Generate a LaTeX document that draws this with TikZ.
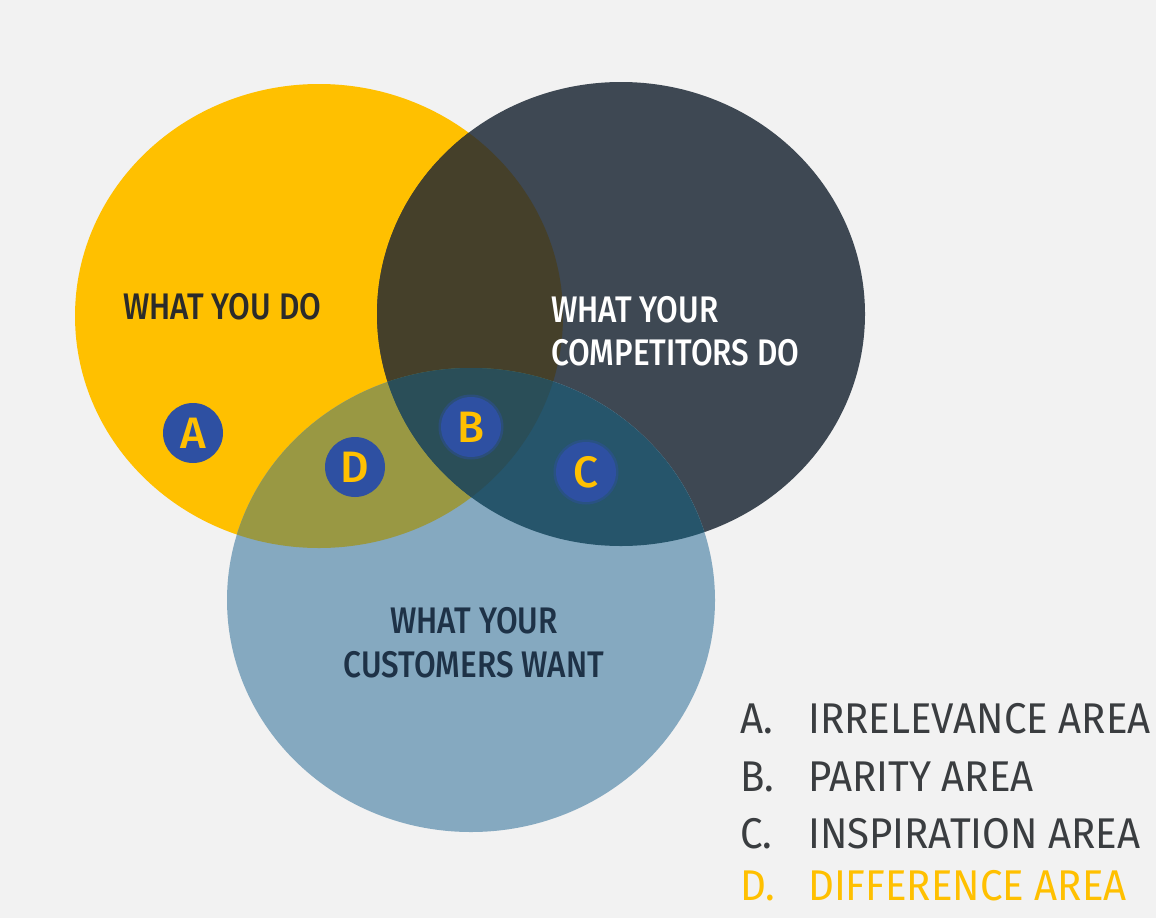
\documentclass[tikz,border=0pt]{standalone}
\usepackage{fontspec}
\setmainfont{Fira Sans}
\newfontfamily\medfont{Fira Sans Medium}

\definecolor{fondo}{HTML}{F2F2F2}
\definecolor{youcol}{HTML}{FFC000}
\definecolor{compcol}{HTML}{3E4853}
\definecolor{custcol}{HTML}{85A9C0}
\definecolor{youcomp}{HTML}{45402A}
\definecolor{youcust}{HTML}{999843}
\definecolor{compcust}{HTML}{26556B}
\definecolor{tutti}{HTML}{2A4E58}
\definecolor{badgecol}{HTML}{2E50A2}
\definecolor{scuro}{HTML}{2B2B2B}
\definecolor{navy}{HTML}{1E3247}
\definecolor{grigio}{HTML}{3A3D40}

\begin{document}
\begin{tikzpicture}[x=1pt,y=-1pt,
  titolo/.style={font={\medfont\fontsize{37}{44}\selectfont},xscale=0.85,inner sep=0},
  badge/.style={circle,fill=badgecol,text=youcol,minimum size=60pt,inner sep=0,
    font={\medfont\fontsize{44}{44}\selectfont}},
  alone/.style={draw=badgecol,draw opacity=0.45,line width=5pt},
  voce/.style={font={\fontsize{43}{50}\selectfont},xscale=0.935,inner sep=0,
    anchor=base west,text=grigio}]

  % sfondo
  \useasboundingbox (0,0) rectangle (1156,918);
  \fill[fondo] (0,0) rectangle (1156,918);

  % cerchi
  \fill[youcol] (319,316) ellipse [x radius=244pt, y radius=232pt];
  \fill[compcol] (621,314) ellipse [x radius=244pt, y radius=232pt];
  \fill[custcol] (471,600) ellipse [x radius=244pt, y radius=232pt];

  % intersezioni
  \begin{scope}
    \clip (319,316) ellipse [x radius=244pt, y radius=232pt];
    \fill[youcomp] (621,314) ellipse [x radius=244pt, y radius=232pt];
    \fill[youcust] (471,600) ellipse [x radius=244pt, y radius=232pt];
  \end{scope}
  \begin{scope}
    \clip (621,314) ellipse [x radius=244pt, y radius=232pt];
    \fill[compcust] (471,600) ellipse [x radius=244pt, y radius=232pt];
    \clip (319,316) ellipse [x radius=244pt, y radius=232pt];
    \fill[tutti] (471,600) ellipse [x radius=244pt, y radius=232pt];
  \end{scope}

  % titoli
  \node[titolo,anchor=base west,text=scuro] (you) at (123,319) {WHAT YOU DO};
  \node[titolo,anchor=base west,text=white] (comp1) at (551,322) {WHAT YOUR};
  \node[titolo,anchor=base west,text=white] (comp2) at (551,365) {COMPETITORS DO};
  \node[titolo,anchor=base,text=navy] (cust1) at (474,633) {WHAT YOUR};
  \node[titolo,anchor=base,text=navy] (cust2) at (474,677) {CUSTOMERS WANT};

  % lettere
  \node[badge] (A) at (193,433) {A};
  \node[badge] (D) at (355,467) {D};
  \node[badge,alone] (B) at (471,427) {B};
  \node[badge,alone] (C) at (586,472) {C};

  % legenda
  \node[voce] (la) at (740,733) {A.};
  \node[voce] (ta) at (808,733) {IRRELEVANCE AREA};
  \node[voce] (lb) at (740,791) {B.};
  \node[voce] (tb) at (808,791) {PARITY AREA};
  \node[voce] (lc) at (740,848) {C.};
  \node[voce] (tc) at (808,848) {INSPIRATION AREA};
  \node[voce,text=youcol] (ld) at (740,900) {D.};
  \node[voce,text=youcol] (td) at (808,900) {DIFFERENCE AREA};
\end{tikzpicture}
\end{document}
